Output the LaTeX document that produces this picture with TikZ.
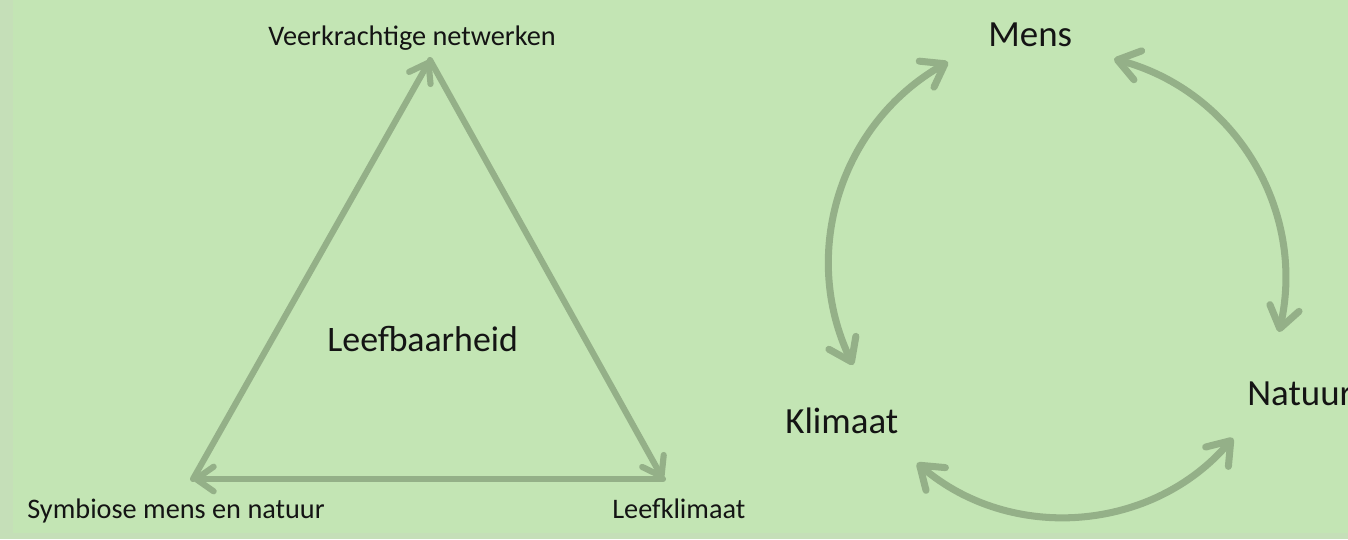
\documentclass[tikz,border=0pt]{standalone}
\usepackage{fontspec}
\setmainfont{Carlito}
\usetikzlibrary{arrows.meta}

\definecolor{bgGreen}{RGB}{195,229,180}
\definecolor{rimGreen}{RGB}{197,223,184}
\definecolor{arrowGreen}{RGB}{148,176,136}

\begin{document}
\begin{tikzpicture}[x=0.02cm, y=0.02cm,
    every node/.style={inner sep=0pt, text=black!92},
    small/.style={font=\fontsize{16.1}{19}\selectfont, anchor=base west},
    mid/.style={font=\fontsize{20.4}{24}\selectfont, anchor=base west},
    big/.style={font=\fontsize{21}{25}\selectfont, anchor=base west},
    tri/.style={draw=arrowGreen, line width=3.5pt, line cap=round,
      -{Straight Barb[length=10pt,width=14pt,round]}},
    ring/.style={draw=arrowGreen, line width=4pt, line cap=round,
      {Straight Barb[length=12pt,width=17pt,round]}-{Straight Barb[length=12pt,width=17pt,round]}}]
    \useasboundingbox (0,0) rectangle (1348,539);
    \fill[rimGreen] (0,0) rectangle (1348,539);
    \fill[bgGreen] (13,6) rectangle (1348,539);
    \clip (0,0) rectangle (1348,539);

    \coordinate (top)   at (430,479);
    \coordinate (left)  at (193,60);
    \coordinate (right) at (663,60);

    \draw[tri] (left) -- (top);
    \draw[tri] (top) -- (right);
    \draw[tri] (right) -- (left);

    \node[small] (veer)  at (268,494) {Veerkrachtige netwerken};
    \node[mid]   (leef)  at (327,188) {Leefbaarheid};
    \node[small] (symb)  at (27,21)   {Symbiose mens en natuur};
    \node[small] (klim)  at (612,21)  {Leefklimaat};

    \node[big] (mens)    at (988,493)  {Mens};
    \node[big] (klimaat) at (785,106)  {Klimaat};
    \node[big] (natuur)  at (1247,134) {Natuur};

    \coordinate (mensL)    at (948,477);
    \coordinate (mensR)    at (1114,480);
    \coordinate (klimaatT) at (853,174);
    \coordinate (klimaatB) at (917,76);
    \coordinate (natuurT)  at (1279,207);
    \coordinate (natuurB)  at (1233,101);

    \draw[ring] (klimaatT) to[bend left=43] (mensL);
    \draw[ring] (mensR) to[bend left=44] (natuurT);
    \draw[ring] (klimaatB) to[bend right=45] (natuurB);
\end{tikzpicture}
\end{document}
